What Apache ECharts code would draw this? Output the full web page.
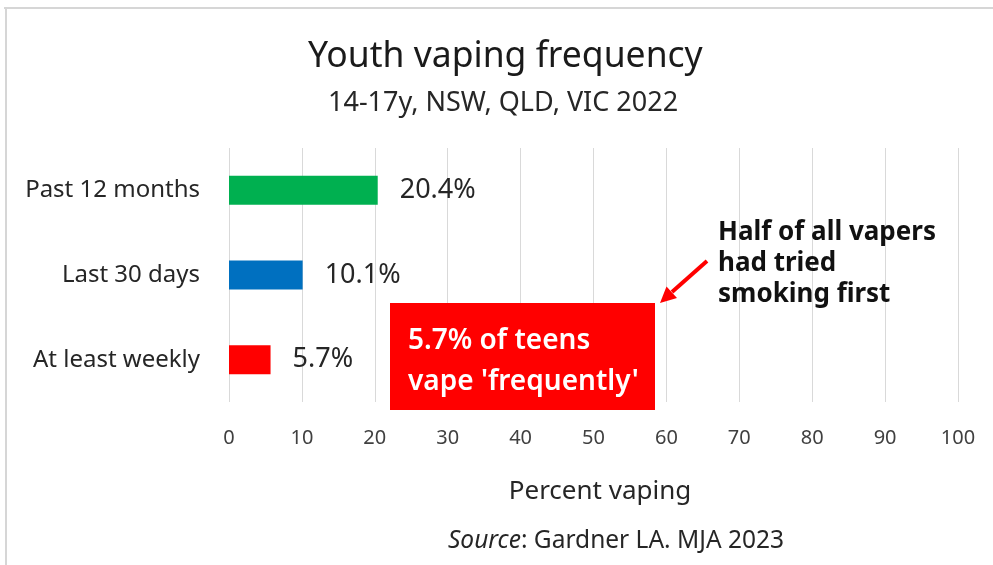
<!DOCTYPE html>
<html>
<head>
<meta charset="utf-8">
<script src="https://cdn.jsdelivr.net/npm/echarts@6/dist/echarts.min.js"></script>
<style>
  html, body { margin: 0; padding: 0; background: #fff; overflow: hidden; }
  #chart { width: 993px; height: 565px; }
</style>
</head>
<body>
<div id="chart"></div>
<script>
var categories = ['Past 12 months', 'Last 30 days', 'At least weekly'];
var values = [20.4, 10.1, 5.7];
var barColors = ['#00b050', '#0070c0', '#ff0000'];
var boxLines = ['5.7% of teens', "vape 'frequently'"];
var noteLines = ['Half of all vapers', 'had tried', 'smoking first'];

var font = 'Noto Sans';
var dom = document.getElementById('chart');
var myChart = echarts.init(dom);

var option = {
  backgroundColor: '#fff',
  textStyle: { fontFamily: font },
  title: [
    {
      text: 'Youth vaping frequency',
      left: 303,
      top: 34,
      textStyle: { fontFamily: font, fontSize: 35.5, fontWeight: 'normal', color: '#1a1a1a' }
    },
    {
      text: '14-17y, NSW, QLD, VIC 2022',
      left: 323,
      top: 85,
      textStyle: { fontFamily: font, fontSize: 27, fontWeight: 'normal', color: '#262626' }
    }
  ],
  grid: { left: 229, right: 35, top: 148, bottom: 163, containLabel: false },
  xAxis: {
    type: 'value',
    min: 0,
    max: 100,
    interval: 10,
    axisLine: { show: false },
    axisTick: { show: false },
    splitLine: { lineStyle: { color: '#d9d9d9', width: 1 } },
    axisLabel: { fontFamily: font, fontSize: 20, color: '#404040', margin: 26 },
    name: 'Percent vaping',
    nameLocation: 'middle',
    nameGap: 77,
    nameTextStyle: { fontFamily: font, fontSize: 26, color: '#262626', padding: [0, 0, 0, 13] }
  },
  yAxis: {
    type: 'category',
    data: categories,
    inverse: true,
    axisLine: { show: false },
    axisTick: { show: false },
    axisLabel: { fontFamily: font, fontSize: 24, color: '#262626', margin: 29 }
  },
  series: [
    {
      type: 'bar',
      barWidth: 29,
      data: values.map(function (v, i) {
        return { value: v, itemStyle: { color: barColors[i] } };
      }),
      label: {
        show: true,
        position: 'right',
        distance: 22,
        fontFamily: font,
        fontSize: 27,
        color: '#262626',
        formatter: function (p) { return p.value.toFixed(1) + '%'; }
      }
    }
  ],
  graphic: [
    // chart frame (top and left edges only, as cropped in the original)
    { type: 'line', z: 100, shape: { x1: 4, y1: 8, x2: 993, y2: 8 }, style: { stroke: '#d6d6d6', lineWidth: 2 } },
    { type: 'line', z: 100, shape: { x1: 6, y1: 8, x2: 6, y2: 565 }, style: { stroke: '#d6d6d6', lineWidth: 2 } },
    // red callout box
    { type: 'rect', z: 100, shape: { x: 390, y: 303, width: 265, height: 107 }, style: { fill: '#ff0000' } },
    {
      type: 'text', z: 101, left: 408, top: 321,
      style: {
        text: boxLines.join('\n'),
        fill: '#fff', font: '600 28px "' + font + '"', lineHeight: 41
      }
    },
    {
      type: 'text', z: 101, left: 718, top: 217,
      style: {
        text: noteLines.join('\n'),
        fill: '#111', font: 'bold 26px "' + font + '"', lineHeight: 31
      }
    },
    // arrow
    { type: 'line', z: 101, shape: { x1: 707, y1: 261, x2: 672, y2: 292 }, style: { stroke: '#ff0000', lineWidth: 4 } },
    { type: 'polygon', z: 101, shape: { points: [[660, 303], [666.5, 286.5], [677, 298]] }, style: { fill: '#ff0000' } },
    {
      type: 'text', z: 101, x: 616, y: 541,
      style: {
        rich: {
          i: { fontFamily: font, fontSize: 24.5, fontStyle: 'italic', fill: '#262626' },
          n: { fontFamily: font, fontSize: 24.5, fill: '#262626' }
        },
        text: '{i|Source}{n|: Gardner LA. MJA 2023}',
        align: 'center',
        verticalAlign: 'middle'
      }
    }
  ]
};

if (option && typeof option === 'object') {
  myChart.setOption(option, true);
}
</script>
</body>
</html>
